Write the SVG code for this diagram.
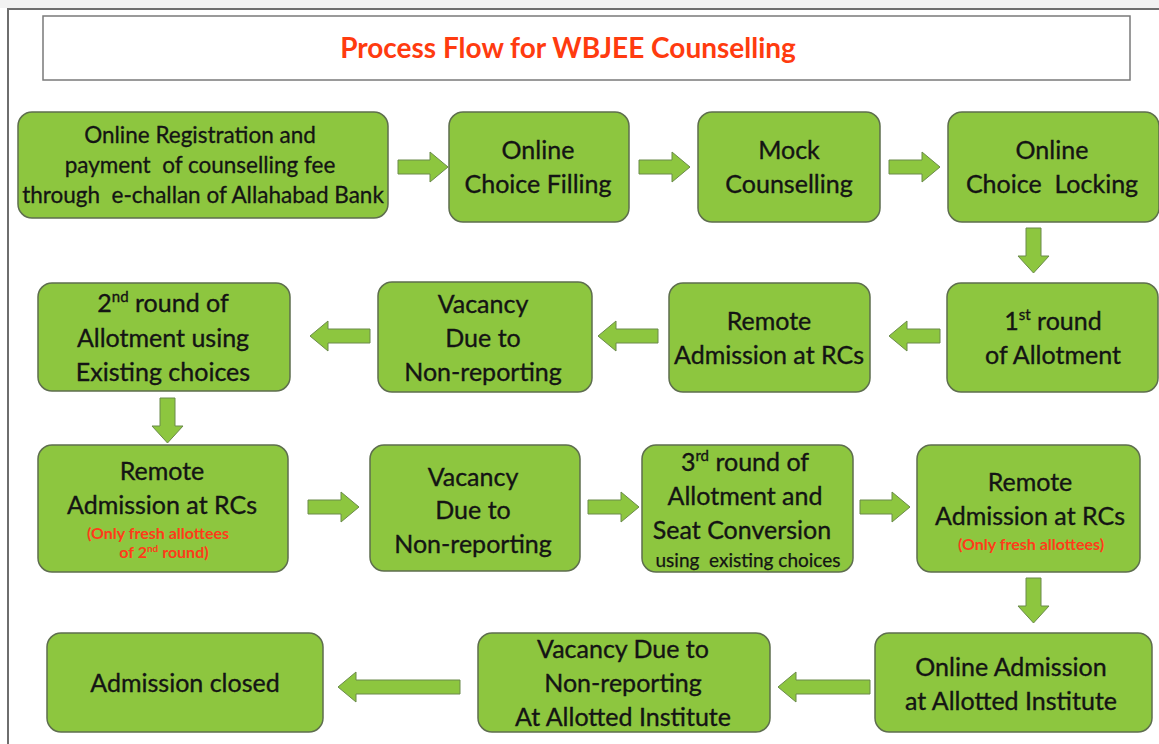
<svg xmlns="http://www.w3.org/2000/svg" width="1159" height="744" viewBox="0 0 1159 744">
<style>
.n{fill:#8dc63f;stroke:#5e6e4e;stroke-width:1.5}
text{font-family:Lato,"Liberation Sans",sans-serif;text-anchor:middle;white-space:pre}
.t{font-size:25px;fill:#141414;stroke:#141414;stroke-width:0.35}
.s{font-size:22.5px;fill:#141414;stroke:#141414;stroke-width:0.3}
.r{font-size:16px;font-weight:bold;fill:#ff3b1a}
.u{font-size:19px;fill:#141414;stroke:#141414;stroke-width:0.25}
.a{fill:#8dc63f;stroke:#6a8a4a;stroke-width:1}
</style>
<rect x="0" y="0" width="1159" height="744" fill="#ffffff"/>
<rect x="0" y="0" width="1159" height="8" fill="#f2f2f2"/>
<rect x="8" y="9" width="1160" height="745" fill="none" stroke="#6e6e6e" stroke-width="2"/>
<g id="title">
<rect x="43" y="16" width="1087" height="64" fill="#ffffff" stroke="#7a7a7a" stroke-width="1.5"/>
<text x="568" y="58" font-size="28" font-weight="bold" fill="#ff3b0f">Process Flow for WBJEE Counselling</text>
</g>
<g id="connectors">
<path class="a" d="M398,160 H430 V152 L448,167 L430,182 V174 H398 Z"/>
<path class="a" d="M639,160 H672 V152 L690,167 L672,182 V174 H639 Z"/>
<path class="a" d="M889,160 H922 V152 L940,167 L922,182 V174 H889 Z"/>
<path class="a" d="M1026,228 H1041 V256 H1049 L1033.5,273 L1018,256 H1026 Z"/>
<path class="a" d="M940,329 H907 V321 L889,336 L907,351 V343 H940 Z"/>
<path class="a" d="M658,329 H616 V321 L598,336 L616,351 V343 H658 Z"/>
<path class="a" d="M370,329 H328 V321 L310,336 L328,351 V343 H370 Z"/>
<path class="a" d="M160,398 H175 V426 H183 L167.5,443 L152,426 H160 Z"/>
<path class="a" d="M308,500 H341 V492 L359,507 L341,522 V514 H308 Z"/>
<path class="a" d="M588,500 H621 V492 L639,507 L621,522 V514 H588 Z"/>
<path class="a" d="M860,500 H892 V492 L910,507 L892,522 V514 H860 Z"/>
<path class="a" d="M1026,578 H1041 V606 H1049 L1033.5,623 L1018,606 H1026 Z"/>
<path class="a" d="M870,680 H796 V672 L778,687 L796,702 V694 H870 Z"/>
<path class="a" d="M460,680 H356 V672 L338,687 L356,702 V694 H460 Z"/>
</g>
<g id="n1"><rect class="n" x="18" y="112" width="370" height="106" rx="14"/>
<text class="s" x="200" y="143">Online Registration and</text>
<text class="s" x="200" y="173">payment  of counselling fee</text>
<text class="s" x="203" y="203">through  e-challan of Allahabad Bank</text></g>
<g id="n2"><rect class="n" x="449" y="112" width="180" height="110" rx="14"/>
<text class="t" x="538" y="159">Online</text>
<text class="t" x="538" y="193">Choice Filling</text></g>
<g id="n3"><rect class="n" x="698" y="112" width="182" height="110" rx="14"/>
<text class="t" x="789" y="159">Mock</text>
<text class="t" x="789" y="193">Counselling</text></g>
<g id="n4"><rect class="n" x="948" y="112" width="211" height="110" rx="14"/>
<text class="t" x="1052" y="159">Online</text>
<text class="t" x="1052" y="193">Choice  Locking</text></g>
<g id="n5"><rect class="n" x="947" y="283" width="211" height="109" rx="14"/>
<text class="t" x="1053" y="330">1<tspan font-size="15" dy="-10">st</tspan><tspan dy="10"> round</tspan></text>
<text class="t" x="1053" y="364">of Allotment</text></g>
<g id="n6"><rect class="n" x="669" y="283" width="201" height="109" rx="14"/>
<text class="t" x="769" y="330">Remote</text>
<text class="t" x="769" y="364">Admission at RCs</text></g>
<g id="n7"><rect class="n" x="378" y="282" width="214" height="110" rx="14"/>
<text class="t" x="483" y="313">Vacancy</text>
<text class="t" x="483" y="347">Due to</text>
<text class="t" x="483" y="381">Non-reporting</text></g>
<g id="n8"><rect class="n" x="38" y="283" width="252" height="108" rx="14"/>
<text class="t" x="163" y="312">2<tspan font-size="15" dy="-10">nd</tspan><tspan dy="10"> round of</tspan></text>
<text class="t" x="163" y="347">Allotment using</text>
<text class="t" x="163" y="381">Existing choices</text></g>
<g id="n9"><rect class="n" x="38" y="445" width="250" height="127" rx="14"/>
<text class="t" x="162" y="480">Remote</text>
<text class="t" x="162" y="514">Admission at RCs</text>
<text class="r" x="158" y="539">(Only fresh allottees</text>
<text class="r" x="164" y="558">of 2<tspan font-size="10" dy="-6">nd</tspan><tspan dy="6"> round)</tspan></text></g>
<g id="n10"><rect class="n" x="370" y="445" width="210" height="126" rx="14"/>
<text class="t" x="473" y="486">Vacancy</text>
<text class="t" x="473" y="519">Due to</text>
<text class="t" x="473" y="553">Non-reporting</text></g>
<g id="n11"><rect class="n" x="642" y="445" width="211" height="127" rx="14"/>
<text class="t" x="745" y="471">3<tspan font-size="15" dy="-10">rd</tspan><tspan dy="10"> round of</tspan></text>
<text class="t" x="745" y="505">Allotment and</text>
<text class="t" x="742" y="539">Seat Conversion</text>
<text class="u" x="748" y="567">using  existing choices</text></g>
<g id="n12"><rect class="n" x="917" y="445" width="223" height="127" rx="14"/>
<text class="t" x="1030" y="491">Remote</text>
<text class="t" x="1030" y="525">Admission at RCs</text>
<text class="r" x="1031" y="550">(Only fresh allottees)</text></g>
<g id="n13"><rect class="n" x="875" y="633" width="277" height="99" rx="14"/>
<text class="t" x="1011" y="676">Online Admission</text>
<text class="t" x="1011" y="710">at Allotted Institute</text></g>
<g id="n14"><rect class="n" x="478" y="633" width="292" height="99" rx="14"/>
<text class="t" x="623" y="658">Vacancy Due to</text>
<text class="t" x="623" y="692">Non-reporting</text>
<text class="t" x="623" y="726">At Allotted Institute</text></g>
<g id="n15"><rect class="n" x="47" y="633" width="276" height="99" rx="14"/>
<text class="t" x="185" y="692">Admission closed</text></g>
</svg>
